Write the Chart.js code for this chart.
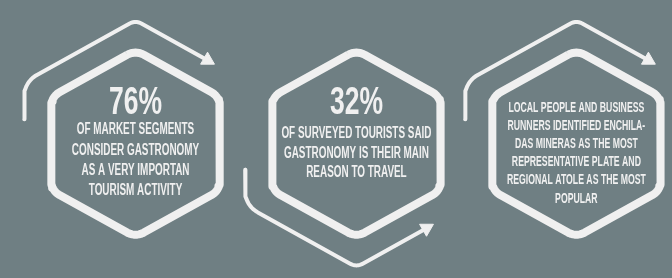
<!DOCTYPE html>
<html>
<head>
<meta charset="utf-8">
<script src="https://cdn.jsdelivr.net/npm/chart.js@4"></script>
<style>
  html, body { margin: 0; padding: 0; background: #6f7f83; overflow: hidden; }
  canvas { display: block; }
</style>
</head>
<body>
<canvas id="chart" width="672" height="278"></canvas>
<script>
// data
const stats = ['76%', '32%', ''];
const captions = [
  ['OF MARKET SEGMENTS', 'CONSIDER GASTRONOMY', 'AS A VERY IMPORTAN', 'TOURISM ACTIVITY'],
  ['OF SURVEYED TOURISTS SAID', 'GASTRONOMY IS THEIR MAIN', 'REASON TO TRAVEL'],
  ['LOCAL PEOPLE AND BUSINESS', 'RUNNERS IDENTIFIED ENCHILA-', 'DAS MINERAS AS THE MOST',
   'REPRESENTATIVE PLATE AND', 'REGIONAL ATOLE AS THE MOST', 'POPULAR'],
];
const arrowSides = ['top', 'bottom', 'top'];

// layout (pixel space, y down)
const W = 672, H = 278;
const centers = [130, 357, 583];
const CY = 144;
const R_IN = 100, R_OUT = 132;
const INK = '#f0f0f0';
const textLayout = [
  { statBase: 112, firstBase: 134, gap: 21.7, size: 16, sx: 0.62 },
  { statBase: 112, firstBase: 138, gap: 21, size: 16, sx: 0.62 },
  { statBase: 0, firstBase: 110, gap: 19.4, size: 14.5, sx: 0.6 },
];

const rad = (d) => (d * Math.PI) / 180;

// rounded corner of a pointy-top hexagon at vertex angle `ang`
function corner(cx, cy, R, ang, rc, reverse) {
  const a = rad(ang);
  const d = rc / Math.sin(rad(60));
  const ccx = cx + (R - d) * Math.cos(a);
  const ccy = cy + (R - d) * Math.sin(a);
  const pts = [];
  for (let k = 0; k <= 10; k++) {
    let t = -30 + (60 * k) / 10;
    if (reverse) t = -t;
    pts.push({ x: ccx + rc * Math.cos(a + rad(t)), y: ccy + rc * Math.sin(a + rad(t)) });
  }
  return pts;
}

function hexagon(cx) {
  let pts = [];
  [-90, -30, 30, 90, 150, 210].forEach((ang) => {
    pts = pts.concat(corner(cx, CY, R_IN, ang, 17, false));
  });
  pts.push(pts[0]);
  return pts;
}

function arrow(cx, side) {
  const half = R_OUT * Math.cos(rad(30));
  const tan = Math.tan(rad(30));
  if (side === 'top') {
    const dx = 74;
    return [{ x: cx - half, y: 118 }]
      .concat(corner(cx, CY, R_OUT, 210, 26, false))
      .concat(corner(cx, CY, R_OUT, 270, 12, false))
      .concat([{ x: cx + dx, y: CY - R_OUT + dx * tan }]);
  }
  const dx = 72;
  return [{ x: cx - half, y: 172 }]
    .concat(corner(cx, CY, R_OUT, 150, 26, true))
    .concat(corner(cx, CY, R_OUT, 90, 12, true))
    .concat([{ x: cx + dx, y: CY + R_OUT - dx * tan }]);
}

const datasets = [];
centers.forEach((cx, i) => {
  datasets.push({
    data: hexagon(cx), showLine: true, borderColor: INK, borderWidth: 8,
    pointRadius: 0, borderJoinStyle: 'round', fill: false, clip: false,
  });
  const path = arrow(cx, arrowSides[i]);
  datasets.push({
    data: path, showLine: true, borderColor: INK, borderWidth: 4,
    pointRadius: 0, borderJoinStyle: 'round', borderCapStyle: 'round', fill: false, clip: false,
  });
  datasets.push({
    data: [path[path.length - 1]], showLine: false, pointStyle: 'triangle',
    pointRadius: 8, pointRotation: arrowSides[i] === 'top' ? 120 : 60,
    pointBackgroundColor: INK, pointBorderColor: INK, pointBorderWidth: 1, clip: false,
  });
});

function drawNarrow(ctx, text, x, y, size, sx) {
  ctx.save();
  ctx.font = `bold ${size}px "Liberation Sans", Arial, sans-serif`;
  ctx.translate(x, y);
  ctx.scale(sx, 1);
  ctx.fillText(text, 0, 0);
  ctx.restore();
}

const hexText = {
  id: 'hexText',
  afterDatasetsDraw(chart) {
    const { ctx, scales: { x, y } } = chart;
    ctx.save();
    ctx.fillStyle = INK;
    ctx.textAlign = 'center';
    ctx.textBaseline = 'alphabetic';
    centers.forEach((cx, i) => {
      const px = x.getPixelForValue(cx);
      const t = textLayout[i];
      if (stats[i]) drawNarrow(ctx, stats[i], px, y.getPixelForValue(t.statBase), 39, 0.68);
      captions[i].forEach((line, j) => {
        drawNarrow(ctx, line, px, y.getPixelForValue(t.firstBase + j * t.gap), t.size, t.sx);
      });
    });
    ctx.restore();
  },
};

new Chart(document.getElementById('chart'), {
  type: 'scatter',
  data: { datasets },
  options: {
    responsive: false,
    animation: false,
    layout: { padding: 0 },
    plugins: { legend: { display: false }, tooltip: { enabled: false } },
    scales: {
      x: { type: 'linear', min: 0, max: W, display: false },
      y: { type: 'linear', min: 0, max: H, reverse: true, display: false },
    },
  },
  plugins: [hexText],
});
</script>
</body>
</html>
